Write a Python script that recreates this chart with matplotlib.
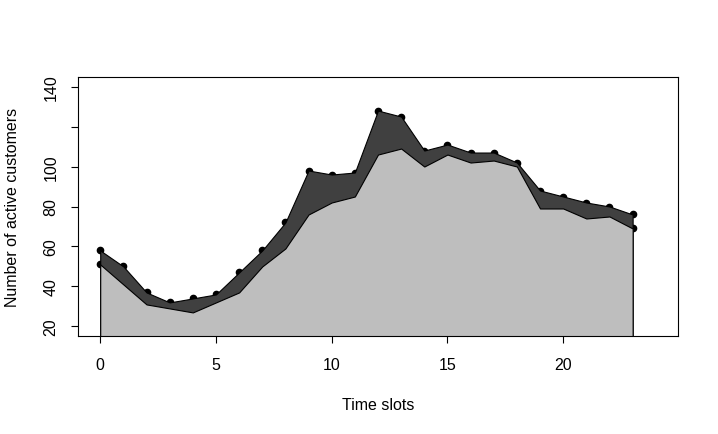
import matplotlib.pyplot as plt
import numpy as np

plt.rcParams['font.family'] = ['Liberation Sans', 'DejaVu Sans']

# hourly time slots
slots = list(range(24))
# total active customers (upper line, with dots)
total_active = [58, 50, 37, 32, 34, 36, 47, 58, 72, 98, 96, 97,
                128, 125, 108, 111, 107, 107, 102, 88, 85, 82, 80, 76]
# lower layer
base_active = [51, 41, 31, 29, 27, 32, 37, 50, 59, 76, 82, 85,
               106, 109, 100, 106, 102, 103, 100, 79, 79, 74, 75, 69]

yticks = [20, 40, 60, 80, 100, 120, 140]
ytick_labels = ['20', '40', '60', '80', '100', '', '140']
xticks = [0, 5, 10, 15, 20]

fig = plt.figure(figsize=(7.18, 4.35), dpi=100)
ax = fig.add_axes([78 / 718, 1 - 337 / 435, 600 / 718, 259 / 435])

x = np.array(slots)
ax.plot(x, total_active, 'o', color='black', markersize=4.5, zorder=1)
ax.plot([x[0], x[-1]], [base_active[0], base_active[-1]], 'o',
        color='black', markersize=4.5, zorder=1)

ax.fill_between(x, total_active, 0, facecolor='#404040', edgecolor='black',
                linewidth=0.8, zorder=2)
ax.fill_between(x, base_active, 0, facecolor='#bebebe', edgecolor='black',
                linewidth=0.8, zorder=3)

ax.set_xlim(-0.96, 24.96)
ax.set_ylim(15.2, 144.8)
ax.set_xticks(xticks)
ax.set_yticks(yticks)
ax.set_yticklabels(ytick_labels, rotation=90, va='center')
ax.tick_params(axis='both', direction='out', length=5, width=0.8,
               labelsize=11.5)
ax.tick_params(axis='x', pad=10)
ax.tick_params(axis='y', pad=9)
for s in ax.spines.values():
    s.set_linewidth(0.8)
    s.set_zorder(5)

ax.set_xlabel('Time slots', fontsize=11.5)
ax.set_ylabel('Number of active customers', fontsize=11.5)
ax.xaxis.set_label_coords(0.5, -(405 - 337) / 259, transform=ax.transAxes)
ax.xaxis.label.set_va('center')
ax.yaxis.set_label_coords(-(78 - 13) / 600, 0.5, transform=ax.transAxes)
ax.yaxis.label.set_va('center')

fig.savefig('out.png', dpi=100)
